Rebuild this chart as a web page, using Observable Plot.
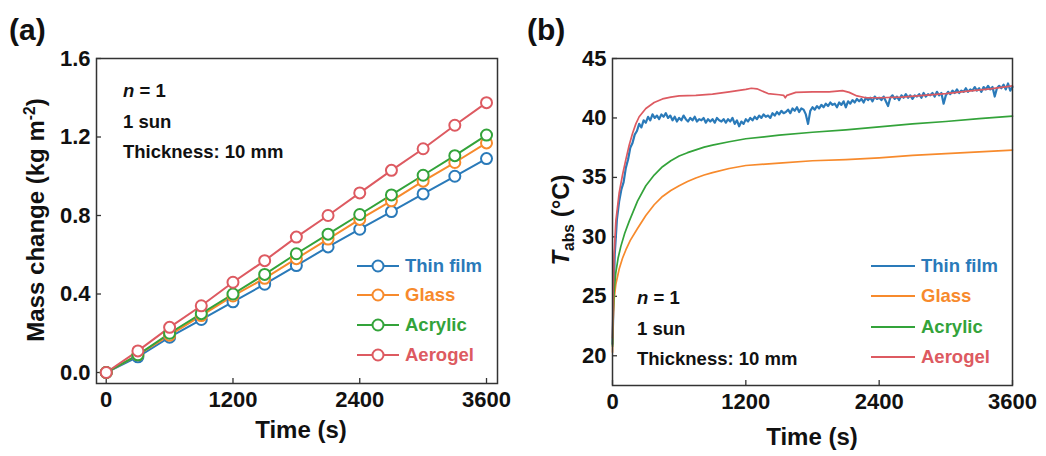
<!DOCTYPE html>
<html><head><meta charset="utf-8">
<script src="https://cdn.jsdelivr.net/npm/d3@7"></script>
<script src="https://cdn.jsdelivr.net/npm/@observablehq/plot@0.6"></script>
<style>
body{margin:0;background:#fff;font-family:"Liberation Sans",Arial,sans-serif;color:#111;}
#wrap{position:relative;width:1046px;height:456px;overflow:hidden;background:#fff;}
.panel{position:absolute;top:0;}
.t{position:absolute;font-weight:bold;white-space:nowrap;line-height:1;}
.rot{transform:translate(-50%,-50%) rotate(-90deg);}
.cen{transform:translate(-50%,-50%);}
.lv{transform:translateY(-50%);}
.leg{position:absolute;display:flex;align-items:center;font-weight:bold;font-size:18.5px;white-space:nowrap;transform:translateY(-50%);}
.leg svg{margin-right:6px;}
</style></head><body><div id="wrap"></div>
<script>
// ---------- shared ----------
const seriesNames = ["Thin film", "Glass", "Acrylic", "Aerogel"];
const seriesColors = ["#2a7ab9", "#f78a2c", "#33a33a", "#dd5a61"];

// ---------- panel (a): mass change ----------
const massTime = [0, 300, 600, 900, 1200, 1500, 1800, 2100, 2400, 2700, 3000, 3300, 3600];
const massThinFilm = [0, 0.08, 0.18, 0.27, 0.36, 0.45, 0.545, 0.64, 0.73, 0.82, 0.91, 1.00, 1.09];
const massGlass    = [0, 0.09, 0.19, 0.29, 0.39, 0.48, 0.58, 0.68, 0.78, 0.875, 0.975, 1.07, 1.17];
const massAcrylic  = [0, 0.09, 0.20, 0.30, 0.40, 0.50, 0.605, 0.705, 0.805, 0.905, 1.005, 1.105, 1.21];
const massAerogel  = [0, 0.11, 0.23, 0.34, 0.46, 0.57, 0.69, 0.80, 0.915, 1.03, 1.14, 1.26, 1.375];
const massXTicks = [0, 1200, 2400, 3600];
const massYTicks = [0, 0.4, 0.8, 1.2, 1.6];

// ---------- panel (b): absorber temperature ----------
const tempXTicks = [0, 1200, 2400, 3600];
const tempYTicks = [20, 25, 30, 35, 40, 45];
const glassTime = [0, 5, 15, 30, 60, 90, 120, 160, 225, 300, 375, 450, 525, 600, 675, 750, 825, 900, 1050, 1200, 1500, 1800, 2100, 2400, 2700, 3000, 3300, 3600];
const glassTemp = [20.3, 22.8, 24.8, 26.0, 27.3, 28.2, 28.9, 29.7, 30.7, 31.8, 32.7, 33.4, 33.9, 34.3, 34.65, 34.95, 35.2, 35.4, 35.75, 36.0, 36.2, 36.4, 36.5, 36.65, 36.85, 37.0, 37.15, 37.3];
const acrylicTime = [0, 5, 15, 30, 50, 75, 110, 150, 225, 300, 375, 450, 525, 600, 675, 750, 825, 900, 1050, 1200, 1500, 1800, 2100, 2400, 2700, 3000, 3300, 3600];
const acrylicTemp = [20.8, 23.5, 25.5, 27.0, 28.2, 29.2, 30.3, 31.3, 33.0, 34.3, 35.2, 35.9, 36.4, 36.8, 37.08, 37.32, 37.55, 37.72, 38.0, 38.25, 38.55, 38.8, 39.0, 39.25, 39.5, 39.7, 39.95, 40.15];
const aerogelTime = [0, 5, 15, 30, 60, 90, 120, 150, 180, 210, 240, 300, 375, 450, 525, 600, 750, 900, 1050, 1200, 1250, 1300, 1400, 1500, 1540, 1555, 1570, 1650, 1800, 1950, 2070, 2130, 2200, 2280, 2400, 2600, 2800, 3000, 3200, 3400, 3600];
const aerogelTemp = [21.5, 25.0, 28.5, 31.3, 33.7, 35.2, 36.5, 37.7, 38.7, 39.5, 40.1, 40.8, 41.3, 41.6, 41.75, 41.85, 41.9, 42.0, 42.2, 42.4, 42.5, 42.45, 42.05, 41.95, 41.9, 41.7, 41.9, 42.15, 42.2, 42.2, 42.3, 42.15, 41.85, 41.7, 41.7, 41.75, 41.9, 42.05, 42.25, 42.45, 42.7];
const thinFilmStep = 20; // sampled every 20 s from 0 to 3600 s
const thinFilmTemp = [
21.0,28.5,31.5,33.0,34.0,34.6,35.8,36.5,37.5,37.9,38.6,38.9,39.5,39.2,39.8,39.6,40.1,39.8,40.3,40.0,
40.2,39.9,40.3,40.1,40.4,40.0,40.2,39.8,40.1,39.7,40.0,39.8,40.2,39.9,39.7,40.0,39.8,40.1,39.7,39.9,
39.8,40.0,39.6,39.9,39.7,39.9,39.6,40.0,39.8,39.7,39.9,39.6,39.9,39.7,40.0,39.5,39.8,39.3,39.7,39.5,
39.9,39.7,40.0,39.8,40.1,39.9,40.2,40.0,40.3,40.1,40.2,40.0,40.4,40.2,40.5,40.3,40.6,40.4,40.5,40.7,
40.4,40.8,40.6,40.9,40.5,40.8,40.7,40.3,39.5,40.6,40.9,40.7,41.0,40.8,41.1,40.9,41.2,41.0,41.3,41.1,
41.2,40.9,41.3,41.1,41.4,40.9,41.4,41.2,41.5,41.3,41.6,41.4,41.6,41.3,41.7,41.5,41.7,41.4,41.8,41.6,
41.7,41.5,41.8,41.4,41.0,41.7,41.9,41.6,41.8,41.5,41.9,41.7,42.0,41.7,41.9,41.6,41.9,41.8,42.0,41.7,
42.1,41.8,42.0,41.9,42.1,41.8,42.2,41.9,42.1,41.2,41.9,42.2,42.0,42.3,42.1,42.4,42.1,42.3,42.2,42.5,
42.2,42.4,42.3,42.6,42.3,42.5,42.2,42.6,42.4,42.7,42.4,42.6,41.8,42.5,42.7,42.5,42.8,42.4,42.9,42.3,
42.6];

// ---------- build tables ----------
const massValues = [massThinFilm, massGlass, massAcrylic, massAerogel];
const massData = seriesNames.flatMap((s, i) => massTime.map((t, j) => ({series: s, t, v: massValues[i][j]})));
const tempData = [
  ...thinFilmTemp.map((v, i) => ({series: "Thin film", t: i * thinFilmStep, v})),
  ...glassTime.map((t, i) => ({series: "Glass", t, v: glassTemp[i]})),
  ...acrylicTime.map((t, i) => ({series: "Acrylic", t, v: acrylicTemp[i]})),
  ...aerogelTime.map((t, i) => ({series: "Aerogel", t, v: aerogelTemp[i]}))
];

const FONT = "'Liberation Sans', Arial, sans-serif";
const baseStyle = {fontFamily: FONT, fontSize: "22px", fontWeight: "bold", color: "#111", background: "transparent", overflow: "visible"};
const wrap = document.getElementById("wrap");
const intFmt = d3.format("d");

function addPanel(svg, left) {
  const d = document.createElement("div");
  d.className = "panel";
  d.style.left = left + "px";
  d.appendChild(svg);
  wrap.appendChild(d);
}
function addText(html, x, y, cls, size, extra) {
  const d = document.createElement("div");
  d.className = "t " + (cls || "");
  d.style.left = x + "px";
  d.style.top = y + "px";
  d.style.fontSize = size + "px";
  if (extra) Object.assign(d.style, extra);
  d.innerHTML = html;
  wrap.appendChild(d);
}
function addLegend(x, y, color, name, withDot, lineW) {
  const d = document.createElement("div");
  d.className = "leg";
  d.style.left = x + "px";
  d.style.top = y + "px";
  d.style.color = color;
  const w = lineW;
  const dot = withDot ? `<circle cx="${w/2}" cy="8" r="5.5" fill="#fff" stroke="${color}" stroke-width="2"/>` : "";
  d.innerHTML = `<svg width="${w}" height="16"><line x1="0" x2="${w}" y1="8" y2="8" stroke="${color}" stroke-width="2"/>${dot}</svg><span>${name}</span>`;
  wrap.appendChild(d);
}

// ---------- panel (a) ----------
const plotA = Plot.plot({
  width: 520, height: 456,
  marginLeft: 96, marginRight: 23, marginTop: 58, marginBottom: 73,
  style: baseStyle,
  x: {domain: [-92, 3704]},
  y: {domain: [-0.056, 1.6]},
  color: {domain: seriesNames, range: seriesColors},
  marks: [
    Plot.axisX(massXTicks, {tickSize: 0, tickPadding: 8, label: null, tickFormat: intFmt, fontSize: 22}),
    Plot.axisX(massXTicks, {tickSize: -5, tickFormat: () => "", label: null, stroke: "#333", strokeWidth: 1.3}),
    Plot.axisY(massYTicks, {tickSize: 0, tickPadding: 6, label: null, tickFormat: d3.format(".1f"), fontSize: 22}),
    Plot.axisY(massYTicks, {tickSize: -5, tickFormat: () => "", label: null, stroke: "#333", strokeWidth: 1.3}),
    Plot.line(massData, {x: "t", y: "v", z: "series", stroke: "series", strokeWidth: 2}),
    Plot.dot(massData, {x: "t", y: "v", stroke: "series", fill: "white", r: 5.5, strokeWidth: 2}),
    Plot.frame({stroke: "#333", strokeWidth: 1.5})
  ]
});
addPanel(plotA, 0);

// ---------- panel (b) ----------
const plotB = Plot.plot({
  width: 526, height: 456,
  marginLeft: 92, marginRight: 34, marginTop: 58, marginBottom: 71,
  style: baseStyle,
  x: {domain: [0, 3600]},
  y: {domain: [17.5, 45]},
  color: {domain: seriesNames, range: seriesColors},
  marks: [
    Plot.axisX(tempXTicks, {tickSize: 0, tickPadding: 8, label: null, tickFormat: intFmt, fontSize: 22}),
    Plot.axisX(tempXTicks, {tickSize: -5, tickFormat: () => "", label: null, stroke: "#333", strokeWidth: 1.3}),
    Plot.axisY(tempYTicks, {tickSize: 0, tickPadding: 6, label: null, tickFormat: intFmt, fontSize: 22}),
    Plot.axisY(tempYTicks, {tickSize: -5, tickFormat: () => "", label: null, stroke: "#333", strokeWidth: 1.3}),
    Plot.line(tempData, {x: "t", y: "v", z: "series", stroke: "series", strokeWidth: d => d.series === "Thin film" ? 2.2 : 1.7}),
    Plot.frame({stroke: "#333", strokeWidth: 1.5})
  ]
});
addPanel(plotB, 520);

// ---------- text (a) ----------
addText("(a)", 9, 30, "lv", 30);
addText("Mass change (kg m<sup style='font-size:0.65em;vertical-align:0.55em'>-2</sup>)", 35, 220, "rot", 24);
addText("Time (s)", 301, 430, "cen", 24);
addText("<i>n</i> = 1", 123, 91, "lv", 18.5);
addText("1 sun", 123, 122, "lv", 18.5);
addText("Thickness: 10 mm", 123, 152, "lv", 18.5);
const legA = [266, 295, 325, 355];
seriesNames.forEach((s, i) => addLegend(357, legA[i], seriesColors[i], s, true, 42));

// ---------- text (b) ----------
addText("(b)", 527, 30, "lv", 30);
addText("<i>T</i><sub style='font-size:0.65em;vertical-align:-0.3em'>abs</sub> (°C)", 563, 220, "rot", 24);
addText("Time (s)", 812, 437, "cen", 24);
addText("<i>n</i> = 1", 637, 298, "lv", 18.5);
addText("1 sun", 637, 329, "lv", 18.5);
addText("Thickness: 10 mm", 637, 359, "lv", 18.5);
const legB = [266, 296, 327, 357];
seriesNames.forEach((s, i) => addLegend(871, legB[i], seriesColors[i], s, false, 44));
</script></body></html>
